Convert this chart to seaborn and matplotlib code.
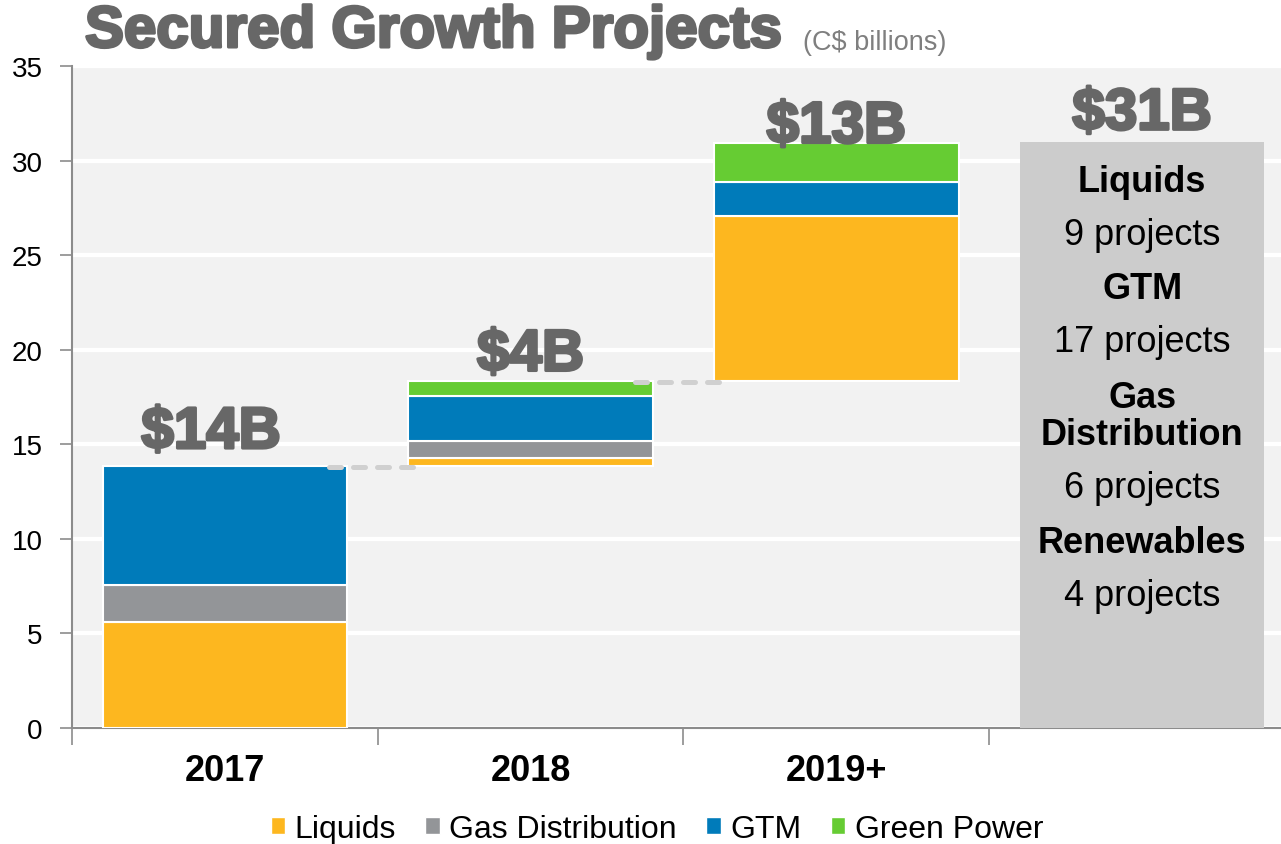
import matplotlib
matplotlib.use("Agg")
import matplotlib.pyplot as plt
import matplotlib.patheffects as pe
from matplotlib.patches import Patch
import seaborn as sns

# data (C$ billions)
years = ["2017", "2018", "2019+"]
total_label = "Total"
liquids = [5.6, 0.4, 8.7]
gas_distribution = [1.95, 0.9, 0.0]
gtm = [6.3, 2.4, 1.8]
green_power = [0.0, 0.8, 2.1]
series_names = ["Liquids", "Gas Distribution", "GTM", "Green Power"]
series_colors = ["#FDB71F", "#939598", "#007BBA", "#66CC33"]
year_labels = ["$14B", "$4B", "$13B"]
total_value = 31.0
total_text = "$31B"
panel_lines = [("Liquids", True), ("9 projects", False), ("GTM", True),
               ("17 projects", False), ("Gas\nDistribution", True),
               ("6 projects", False), ("Renewables", True), ("4 projects", False)]

sns.set_style("whitegrid", {"axes.facecolor": "#F2F2F2", "grid.color": "white",
                            "axes.edgecolor": "#8C8C8C", "text.color": "black",
                            "xtick.color": "black", "ytick.color": "black"})
plt.rcParams["font.family"] = ["Liberation Sans", "DejaVu Sans"]

fig = plt.figure(figsize=(12.81, 8.45), dpi=100)
ax = fig.add_axes([72 / 1281, 116 / 845, 1 - 72 / 1281, 662 / 845])

order = years + [total_label]
series = [liquids, gas_distribution, gtm, green_power]

# waterfall: each year starts where the previous year ended
year_tops = []
base = 0.0
for i, yr in enumerate(years):
    bottom = base
    for vals, col in zip(series, series_colors):
        v = vals[i]
        if v > 0:
            sns.barplot(x=[yr], y=[v], bottom=[bottom], order=order, color=col,
                        width=0.8, edgecolor="white", linewidth=1.5, ax=ax,
                        saturation=1, zorder=3)
        bottom += v
    base = bottom
    year_tops.append(base)

sns.barplot(x=[total_label], y=[total_value], order=order, color="#CCCCCC",
            width=0.8, linewidth=0, ax=ax, saturation=1, zorder=3)

# dashed connectors between steps
for i in range(len(years) - 1):
    ax.plot([i + 0.34, i + 0.64], [year_tops[i] - 0.05] * 2, color="#D0D0D0",
            lw=3.6, dashes=(2.4, 2.4), dash_capstyle="round", zorder=4)

label_fx = [pe.withStroke(linewidth=2.2, foreground="#676767")]
label_dx = [-0.045, 0.0, 0.0]
label_dy = [0.95, 0.55, 0.0]
for i, txt in enumerate(year_labels):
    ax.text(i + label_dx[i], year_tops[i] + label_dy[i], txt, ha="center",
            va="baseline", fontsize=42, fontweight="bold", color="#676767",
            path_effects=label_fx, zorder=5)
ax.text(3, total_value + 0.65, total_text, ha="center", va="baseline", fontsize=42,
        fontweight="bold", color="#676767", path_effects=label_fx, zorder=5)

panel_y = [28.87, 26.07, 23.21, 20.41, 16.5, 12.69, 9.83, 6.98]
for (txt, bold), y in zip(panel_lines, panel_y):
    ax.text(3, y, txt, ha="center", va="center", fontsize=26,
            fontweight="bold" if bold else "normal", color="black",
            linespacing=1.1, zorder=5)

ax.set_ylim(0, 35)
ax.set_xlim(-0.5, 3.5 - 14 / 306)
ax.set_yticks(range(0, 36, 5))
ax.tick_params(axis="y", labelsize=20, length=9, width=1.2, color="#8C8C8C",
               labelcolor="black", pad=12, left=True)
ax.set_xticks([-0.5, 0.5, 1.5, 2.5], ["", "", "", ""])
ax.tick_params(axis="x", which="major", length=12, width=1.2, color="#8C8C8C",
               bottom=True)
ax.set_xticks([0, 1, 2], years, minor=True)
ax.tick_params(axis="x", which="minor", length=0, pad=18, labelsize=26,
               labelcolor="black")
for lab in ax.get_xticklabels(minor=True):
    lab.set_fontweight("bold")
ax.xaxis.grid(False)
ax.yaxis.grid(True, color="white", linewidth=3)
ax.set_axisbelow(True)
ax.set_xlabel("")
ax.set_ylabel("")
for side in ["top", "right"]:
    ax.spines[side].set_visible(False)
for side in ["left", "bottom"]:
    ax.spines[side].set_linewidth(1.5)
    ax.spines[side].set_color("#8C8C8C")

fig.text(85 / 1281, 1 - 48 / 845, "Secured Growth Projects", fontsize=42,
         fontweight="bold", color="#676767", va="baseline", ha="left",
         path_effects=label_fx)
fig.text(803 / 1281, 1 - 50 / 845, "(C$ billions)", fontsize=19.5,
         color="#7F7F7F", va="baseline", ha="left")

handles = [Patch(facecolor=c, label=n) for n, c in zip(series_names, series_colors)]
fig.legend(handles=handles, loc="center", bbox_to_anchor=(657 / 1281, 15 / 845),
           ncol=4, frameon=False, fontsize=23, handlelength=0.45, handleheight=0.45,
           handletextpad=0.3, columnspacing=0.92, labelcolor="black")

fig.savefig("out.png", dpi=100, facecolor="white")
